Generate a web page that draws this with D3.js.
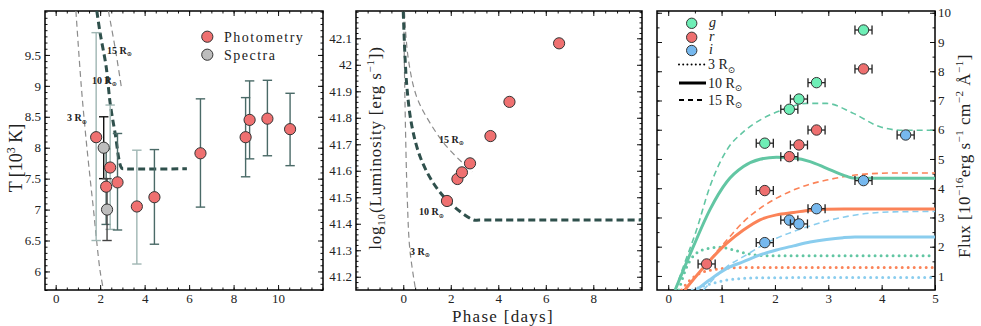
<!DOCTYPE html>
<html>
<head>
<meta charset="utf-8">
<script src="https://cdn.jsdelivr.net/npm/d3@7"></script>
<style>
  body { margin: 0; background: #fff; }
  text { font-family: "Liberation Serif", "Times New Roman", serif; }
</style>
</head>
<body>
<svg id="fig" width="981" height="326" font-family="Liberation Serif, serif"></svg>
<script>
// ---------- data: panel 1, temperature ----------
const photPhase = [1.82, 2.27, 2.45, 2.78, 3.65, 4.44, 6.51, 8.54, 8.72, 9.52, 10.54];
const photT     = [8.17, 7.37, 7.68, 7.44, 7.05, 7.20, 7.91, 8.17, 8.45, 8.47, 8.30];
const photTlo   = [6.50, 6.76, 6.68, 6.67, 6.12, 6.44, 7.04, 7.53, 7.82, 7.87, 7.71];
const photThi   = [9.86, 7.98, 8.69, 8.23, 7.96, 7.97, 8.79, 8.81, 9.08, 9.09, 8.88];
const specPhase = [2.16, 2.31];
const specT     = [8.0, 7.0];
const specTlo   = [7.5, 6.5];
const specThi   = [8.5, 7.5];
const tModel3  = [[0.91, 10.21], [1.15, 9.0], [1.35, 8.2], [1.55, 7.5], [1.7, 7.0], [1.84, 6.5], [2.0, 6.0], [2.15, 5.7]];
const tModel10 = [[1.85, 10.21], [2.0, 9.85], [2.27, 9.31], [2.45, 8.72], [2.67, 8.24], [2.97, 7.67], [3.1, 7.66], [5.9, 7.66]];
const tModel15 = [[2.37, 10.21], [2.68, 9.6], [2.97, 8.94]];
const tTicks = [6, 6.5, 7, 7.5, 8, 8.5, 9, 9.5];
const tPhaseTicks = [0, 2, 4, 6, 8, 10];

// ---------- data: panel 2, luminosity ----------
const lumPhase = [1.84, 2.28, 2.47, 2.81, 3.67, 4.47, 6.56];
const lumLog   = [41.486, 41.569, 41.594, 41.628, 41.731, 41.86, 42.081];
const lModel3  = [[0.02, 42.2], [0.07, 41.87], [0.17, 41.49], [0.28, 41.30], [0.52, 41.15]];
const lModel10 = [[0.0, 42.2], [0.14, 41.93], [0.36, 41.77], [0.71, 41.653], [1.27, 41.553], [1.98, 41.477], [2.97, 41.414], [3.2, 41.414], [10.1, 41.414]];
const lModel15 = [[0.05, 42.2], [0.2, 42.03], [0.56, 41.88], [1.13, 41.78], [1.84, 41.69], [2.9, 41.596]];
const lumTicks = [41.2, 41.3, 41.4, 41.5, 41.6, 41.7, 41.8, 41.9, 42, 42.1];
const lumPhaseTicks = [0, 2, 4, 6, 8];

// ---------- data: panel 3, flux ----------
const gPhase = [1.81, 2.27, 2.45, 2.78, 3.66];
const gFlux  = [5.54, 6.70, 7.05, 7.61, 9.41];
const rPhase = [0.72, 1.81, 2.27, 2.45, 2.78, 3.66];
const rFlux  = [1.41, 3.92, 5.08, 5.48, 5.99, 8.08];
const iPhase = [1.81, 2.27, 2.45, 2.78, 3.66, 4.45];
const iFlux  = [2.14, 2.91, 2.78, 3.30, 4.26, 5.82];
const phaseErr = 0.16;
const g10 = [[0.13, 0.52], [0.47, 2.0], [0.78, 3.26], [1.10, 4.22], [1.41, 4.74], [1.72, 4.99], [2.03, 5.06], [2.35, 5.03], [2.66, 4.91], [2.97, 4.68], [3.28, 4.45], [3.5, 4.34], [5, 4.34]];
const g15 = [[0.13, 0.52], [0.3, 1.4], [0.53, 2.57], [0.78, 4.05], [1.10, 5.31], [1.41, 5.93], [1.72, 6.33], [2.16, 6.69], [2.6, 6.9], [2.97, 6.9], [3.47, 6.56], [3.97, 6.10], [4.4, 5.98], [5, 5.98]];
const g3  = [[0.2, 0.52], [0.35, 1.32], [0.53, 1.78], [0.78, 1.95], [0.97, 1.98], [1.22, 1.89], [1.47, 1.77], [1.72, 1.70], [2.0, 1.69], [5, 1.69]];
const r10 = [[0.31, 0.52], [0.72, 1.41], [1.10, 2.12], [1.41, 2.57], [1.72, 2.92], [2.03, 3.09], [2.35, 3.17], [2.66, 3.25], [2.97, 3.28], [3.3, 3.29], [5, 3.29]];
const r15 = [[0.31, 0.52], [0.78, 1.55], [1.10, 2.23], [1.41, 2.85], [1.72, 3.31], [2.03, 3.66], [2.35, 3.94], [2.66, 4.14], [2.97, 4.28], [3.28, 4.39], [3.6, 4.47], [4.22, 4.52], [5, 4.52]];
const r3  = [[0.25, 0.52], [0.35, 0.75], [0.59, 1.09], [0.84, 1.21], [1.10, 1.27], [1.4, 1.29], [5, 1.29]];
const i10 = [[0.53, 0.52], [0.78, 0.87], [1.10, 1.26], [1.41, 1.49], [1.72, 1.72], [2.03, 1.89], [2.35, 2.03], [2.66, 2.16], [2.97, 2.25], [3.28, 2.31], [3.5, 2.33], [5, 2.33]];
const i15 = [[0.66, 0.52], [1.10, 1.32], [1.41, 1.66], [1.72, 2.0], [2.03, 2.29], [2.35, 2.52], [2.66, 2.71], [2.97, 2.88], [3.28, 3.01], [3.6, 3.11], [4.22, 3.19], [5, 3.21]];
const i3  = [[0.45, 0.52], [0.6, 0.62], [0.84, 0.75], [1.10, 0.86], [1.41, 0.92], [1.72, 0.94], [5, 0.95]];
const fluxTicks = [1, 2, 3, 4, 5, 6, 7, 8, 9, 10];
const fluxPhaseTicks = [0, 1, 2, 3, 4, 5];

// ---------- styles ----------
const serif = "Liberation Serif, Times New Roman, serif";
const red = "#ef7070", grey = "#bdbdbd", darkTeal = "#2f504c";
const barLight = "#9fb6b3", barDark = "#4a6a67";
const lightBarPhases = [1.82, 2.45, 3.65];
const gCol = "#62c6a3", rCol = "#fb8358", iCol = "#8acdee";
const gDot = "#6eeeb6", rDot = "#ee6f6f", iDot = "#76b8ee";

const svg = d3.select("#fig");
const fmt = d => String(+d.toFixed(2));

function stepRange(dom, step) {
  const a = Math.ceil(dom[0] / step - 1e-9), b = Math.floor(dom[1] / step + 1e-9);
  return d3.range(a, b + 1).map(i => +(i * step).toFixed(4));
}

function panel(o) {
  const x = d3.scaleLinear().domain(o.xd).range([o.left, o.right]);
  const y = d3.scaleLinear().domain(o.yd).range([o.bottom, o.top]);
  svg.append("clipPath").attr("id", "clip" + o.id).append("rect")
    .attr("x", o.left).attr("y", o.top)
    .attr("width", o.right - o.left).attr("height", o.bottom - o.top);

  const sides = [
    [d3.axisBottom, x, `translate(0,${o.bottom})`, o.xTicks, o.xMinor, true, 4],
    [d3.axisTop, x, `translate(0,${o.top})`, o.xTicks, o.xMinor, false, 5],
    [d3.axisLeft, y, `translate(${o.left},0)`, o.yTicks, o.yMinor, o.ySide === "left", 4],
    [d3.axisRight, y, `translate(${o.right},0)`, o.yTicks, o.yMinor, o.ySide === "right", 3]
  ];
  sides.forEach(([fn, sc, tr, major, minorStep, labels, pad]) => {
    svg.append("g").attr("transform", tr)
      .call(fn(sc).tickValues(stepRange(sc.domain(), minorStep)).tickSize(-2.5).tickFormat(""))
      .call(a => a.select(".domain").remove());
    const ax = svg.append("g").attr("transform", tr)
      .call(fn(sc).tickValues(major).tickSize(-5).tickPadding(pad).tickFormat(labels ? fmt : ""))
      .call(a => a.select(".domain").remove());
    ax.attr("font-family", serif).attr("font-size", 13);
    ax.selectAll("text").attr("fill", "#222");
  });
  svg.selectAll(".tick line").attr("stroke", "#111");

  svg.append("rect")
    .attr("x", o.left).attr("y", o.top)
    .attr("width", o.right - o.left).attr("height", o.bottom - o.top)
    .attr("fill", "none").attr("stroke", "#000").attr("stroke-width", 1.5);

  const plot = svg.append("g");
  const clipped = plot.append("g").attr("clip-path", `url(#clip${o.id})`);
  return { x, y, plot, clipped };
}

function rsunLabel(g, x, y, num, size, weight) {
  const t = g.append("text").attr("x", x).attr("y", y).attr("font-family", serif)
    .attr("font-size", size).attr("fill", "#222").attr("font-weight", weight || "normal");
  t.append("tspan").text(num + " R");
  t.append("tspan").attr("font-family", "DejaVu Sans").attr("font-size", size * 0.62)
    .attr("dy", size * 0.25).text("⊙");
  return t;
}

// ================= panel 1 =================
const p1 = panel({ id: 1, left: 45, right: 323, top: 11, bottom: 290,
  xd: [-0.48, 12.02], yd: [5.70, 10.21], xTicks: tPhaseTicks, yTicks: tTicks,
  xMinor: 0.5, yMinor: 0.1, ySide: "left" });
const line1 = d3.line().x(d => p1.x(d[0])).y(d => p1.y(d[1])).curve(d3.curveCatmullRom.alpha(0.5));

function vbar(p, xv, lo, hi, col, w) {
  const cap = 4.7;
  p.plot.append("line").attr("x1", p.x(xv)).attr("x2", p.x(xv)).attr("y1", p.y(lo)).attr("y2", p.y(hi))
    .attr("stroke", col).attr("stroke-width", w);
  [lo, hi].forEach(v => p.plot.append("line")
    .attr("x1", p.x(xv) - cap).attr("x2", p.x(xv) + cap).attr("y1", p.y(v)).attr("y2", p.y(v))
    .attr("stroke", col).attr("stroke-width", w));
}

photPhase.forEach((ph, i) => vbar(p1, ph, photTlo[i], photThi[i],
  lightBarPhases.includes(ph) ? barLight : barDark, 1.4));
specPhase.forEach((ph, i) => vbar(p1, ph, specTlo[i], specThi[i], i === 0 ? "#111" : "#444", 1.4));

p1.clipped.append("path").attr("d", line1(tModel3)).attr("fill", "none")
  .attr("stroke", "#8c8c8c").attr("stroke-width", 1.2).attr("stroke-dasharray", "6,4");
p1.clipped.append("path").attr("d", line1(tModel15)).attr("fill", "none")
  .attr("stroke", "#8c8c8c").attr("stroke-width", 1.2).attr("stroke-dasharray", "6,4");
p1.clipped.append("path").attr("d", line1(tModel10)).attr("fill", "none")
  .attr("stroke", darkTeal).attr("stroke-width", 3).attr("stroke-dasharray", "7,4");

p1.plot.selectAll(".phot").data(photPhase).enter().append("circle")
  .attr("cx", d => p1.x(d)).attr("cy", (d, i) => p1.y(photT[i])).attr("r", 5.6)
  .attr("fill", red).attr("stroke", "#333").attr("stroke-width", 1);
p1.plot.selectAll(".spec").data(specPhase).enter().append("circle")
  .attr("cx", d => p1.x(d)).attr("cy", (d, i) => p1.y(specT[i])).attr("r", 5.6)
  .attr("fill", grey).attr("stroke", "#333").attr("stroke-width", 1);

rsunLabel(p1.plot, p1.x(2.31), p1.y(9.52), "15", 10, "bold");
rsunLabel(p1.plot, p1.x(1.63), p1.y(9.03), "10", 10, "bold");
rsunLabel(p1.plot, p1.x(0.51), p1.y(8.43), "3", 10, "bold");

// legend
[["Photometry", red, 36.7], ["Spectra", grey, 54.7]].forEach(([lab, col, yy]) => {
  svg.append("circle").attr("cx", 207.3).attr("cy", yy).attr("r", 5.6)
    .attr("fill", col).attr("stroke", "#333").attr("stroke-width", 1);
  svg.append("text").attr("x", 224).attr("y", yy + 4.8).attr("font-family", serif).attr("font-size", 14)
    .attr("letter-spacing", 1.5).attr("fill", "#222").text(lab);
});

// y label
const tl = svg.append("text").attr("transform", "translate(22,158) rotate(-90)").attr("font-family", serif)
  .attr("text-anchor", "middle").attr("font-size", 18).attr("fill", "#222");
tl.append("tspan").text("T [10");
tl.append("tspan").attr("font-size", 12).attr("dy", -7).text("3");
tl.append("tspan").attr("dy", 7).text(" K]");

// ================= panel 2 =================
const p2 = panel({ id: 2, left: 356, right: 642, top: 11, bottom: 290,
  xd: [-1.99, 10.05], yd: [41.15, 42.203], xTicks: lumPhaseTicks, yTicks: lumTicks,
  xMinor: 0.5, yMinor: 0.02, ySide: "left" });
const line2 = d3.line().x(d => p2.x(d[0])).y(d => p2.y(d[1])).curve(d3.curveCatmullRom.alpha(0.5));

p2.clipped.append("path").attr("d", line2(lModel3)).attr("fill", "none")
  .attr("stroke", "#8c8c8c").attr("stroke-width", 1.2).attr("stroke-dasharray", "6,4");
p2.clipped.append("path").attr("d", line2(lModel15)).attr("fill", "none")
  .attr("stroke", "#8c8c8c").attr("stroke-width", 1.2).attr("stroke-dasharray", "6,4");
p2.clipped.append("path").attr("d", line2(lModel10)).attr("fill", "none")
  .attr("stroke", darkTeal).attr("stroke-width", 3).attr("stroke-dasharray", "7,4");

p2.plot.selectAll(".lum").data(lumPhase).enter().append("circle")
  .attr("cx", d => p2.x(d)).attr("cy", (d, i) => p2.y(lumLog[i])).attr("r", 5.6)
  .attr("fill", red).attr("stroke", "#333").attr("stroke-width", 1);

rsunLabel(p2.plot, p2.x(1.5), p2.y(41.705), "15", 10, "bold");
rsunLabel(p2.plot, p2.x(0.66), p2.y(41.433), "10", 10, "bold");
rsunLabel(p2.plot, p2.x(0.28), p2.y(41.283), "3", 10, "bold");

const ll = svg.append("text").attr("transform", "translate(381,148) rotate(-90)").attr("font-family", serif)
  .attr("text-anchor", "middle").attr("font-size", 17).attr("letter-spacing", 0.8).attr("fill", "#222");
ll.append("tspan").text("log");
ll.append("tspan").attr("font-size", 11).attr("dy", 4).text("10");
ll.append("tspan").attr("dy", -4).text("(Luminosity [erg s");
ll.append("tspan").attr("font-size", 11).attr("dy", -7).text("−1");
ll.append("tspan").attr("dy", 7).text("])");

svg.append("text").attr("x", 503).attr("y", 322).attr("text-anchor", "middle").attr("font-family", serif)
  .attr("font-size", 17).attr("letter-spacing", 1.3).attr("fill", "#222").text("Phase [days]");

// ================= panel 3 =================
const p3 = panel({ id: 3, left: 657, right: 935, top: 11, bottom: 290,
  xd: [-0.21, 5], yd: [0.52, 10.06], xTicks: fluxPhaseTicks, yTicks: fluxTicks,
  xMinor: 0.5, yMinor: 0.5, ySide: "right" });
const line3 = d3.line().x(d => p3.x(d[0])).y(d => p3.y(d[1])).curve(d3.curveMonotoneX);

const styles = {
  solid: { w: 3, dash: null, cap: "butt" },
  dashed: { w: 1.6, dash: "6,4", cap: "butt" },
  dotted: { w: 3, dash: "0,6", cap: "round" }
};
[[g3, gCol, "dotted"], [r3, rCol, "dotted"], [i3, iCol, "dotted"],
 [g15, gCol, "dashed"], [r15, rCol, "dashed"], [i15, iCol, "dashed"],
 [g10, gCol, "solid"], [r10, rCol, "solid"], [i10, iCol, "solid"]].forEach(([pts, col, st]) => {
  const s = styles[st];
  p3.clipped.append("path").attr("d", line3(pts)).attr("fill", "none")
    .attr("stroke", col).attr("stroke-width", s.w).attr("stroke-linecap", s.cap)
    .attr("stroke-dasharray", s.dash);
});

function fluxPoints(phases, flux, col) {
  phases.forEach((ph, i) => {
    const cx = p3.x(ph), cy = p3.y(flux[i]);
    const x0 = p3.x(ph - phaseErr), x1 = p3.x(ph + phaseErr);
    p3.plot.append("line").attr("x1", x0).attr("x2", x1).attr("y1", cy).attr("y2", cy)
      .attr("stroke", "#222").attr("stroke-width", 1.3);
    [x0, x1].forEach(xx => p3.plot.append("line").attr("x1", xx).attr("x2", xx)
      .attr("y1", cy - 4.5).attr("y2", cy + 4.5).attr("stroke", "#222").attr("stroke-width", 1.3));
    p3.plot.append("circle").attr("cx", cx).attr("cy", cy).attr("r", 5.2)
      .attr("fill", col).attr("stroke", "#333").attr("stroke-width", 1);
  });
}
fluxPoints(gPhase, gFlux, gDot);
fluxPoints(rPhase, rFlux, rDot);
fluxPoints(iPhase, iFlux, iDot);

// legend
[["g", gDot, 23.3], ["r", rDot, 37.3], ["i", iDot, 50.5]].forEach(([lab, col, yy]) => {
  svg.append("circle").attr("cx", 691.7).attr("cy", yy).attr("r", 5.2)
    .attr("fill", col).attr("stroke", "#333").attr("stroke-width", 1);
  svg.append("text").attr("x", 709).attr("y", yy + 3.5).attr("font-family", serif).attr("font-size", 14)
    .attr("font-style", "italic").attr("fill", "#222").text(lab);
});
[["3", 64.5, { w: 2, dash: "0,4.2", cap: "round" }],
 ["10", 83, { w: 3, dash: null, cap: "butt" }],
 ["15", 100, { w: 2, dash: "5,4", cap: "butt" }]].forEach(([num, yy, s]) => {
  svg.append("line").attr("x1", 679).attr("x2", 706).attr("y1", yy).attr("y2", yy)
    .attr("stroke", "#000").attr("stroke-width", s.w).attr("stroke-linecap", s.cap)
    .attr("stroke-dasharray", s.dash);
  rsunLabel(svg, 708, yy + 4.5, num, 14);
});

const fl = svg.append("text").attr("transform", "translate(970,156) rotate(-90)").attr("font-family", serif)
  .attr("text-anchor", "middle").attr("font-size", 17).attr("letter-spacing", 0.5).attr("fill", "#222");
fl.append("tspan").text("Flux [10");
fl.append("tspan").attr("font-size", 11).attr("dy", -7).text("−16");
fl.append("tspan").attr("dy", 7).text("erg s");
fl.append("tspan").attr("font-size", 11).attr("dy", -7).text("−1");
fl.append("tspan").attr("dy", 7).text(" cm");
fl.append("tspan").attr("font-size", 11).attr("dy", -7).text("−2");
fl.append("tspan").attr("dy", 7).text(" Å");
fl.append("tspan").attr("font-size", 11).attr("dy", -7).text("−1");
fl.append("tspan").attr("dy", 7).text("]");
</script>
</body>
</html>
